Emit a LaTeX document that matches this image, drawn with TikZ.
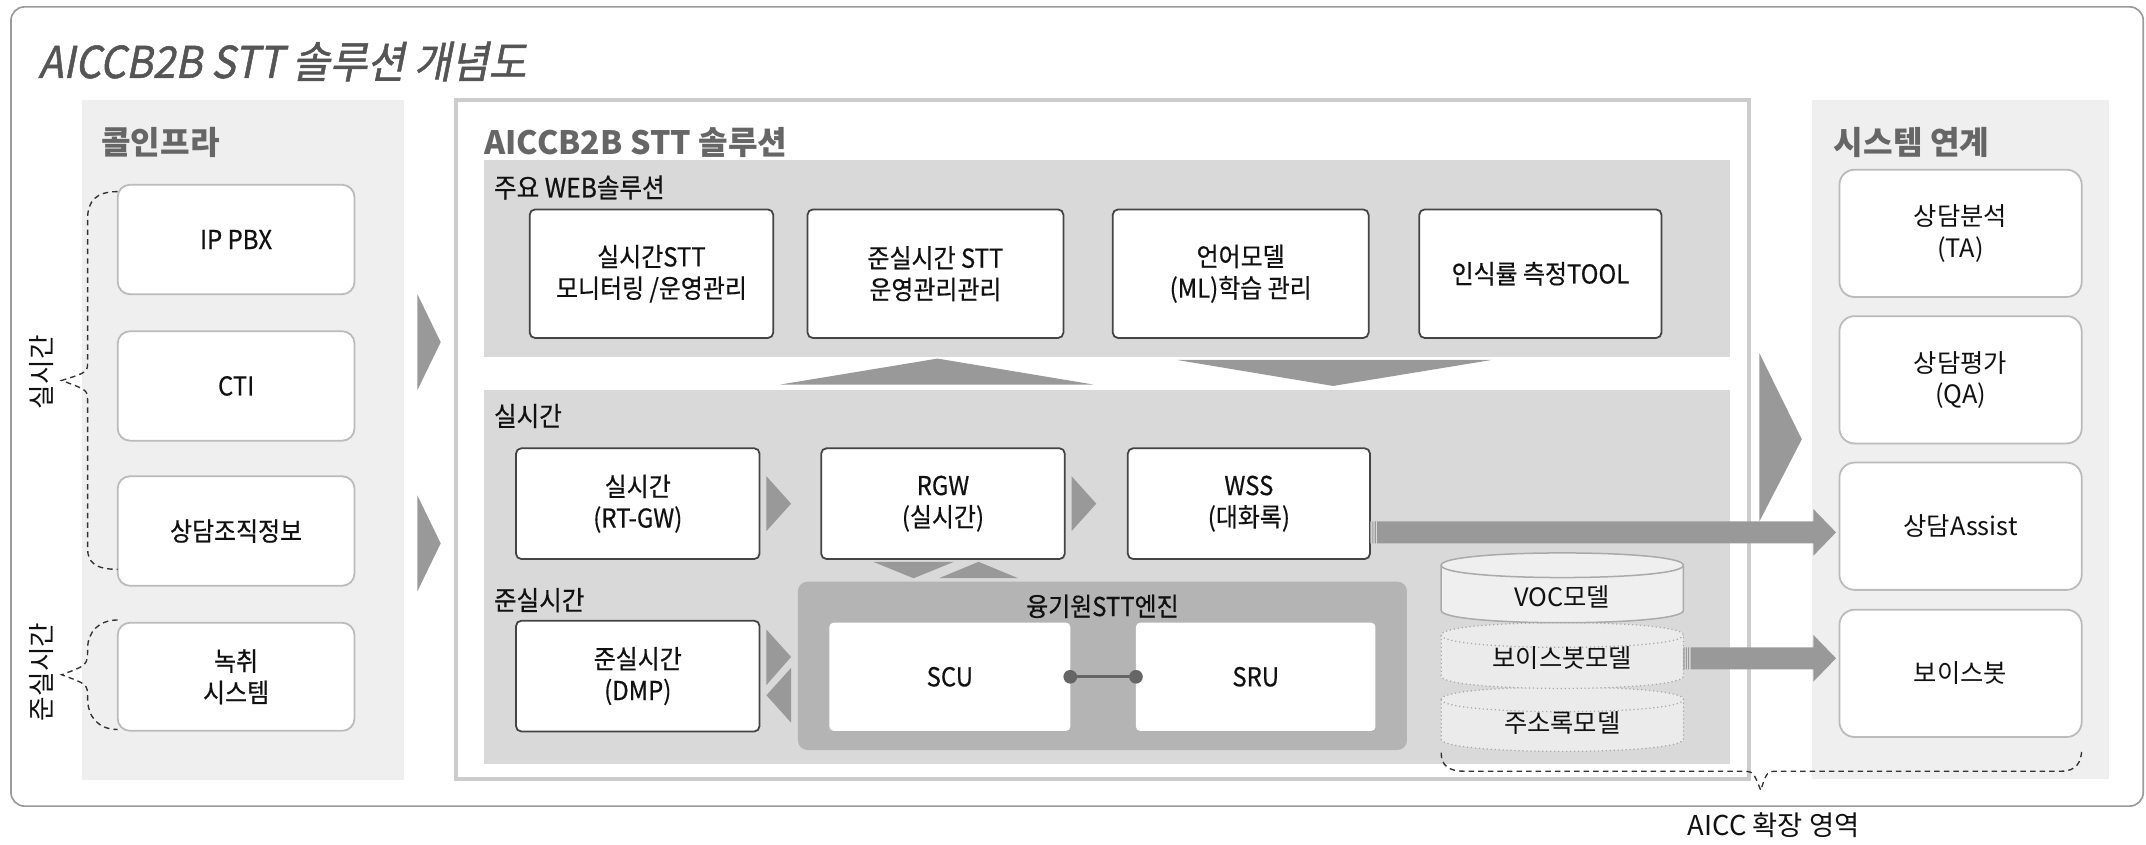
\documentclass[tikz,border=0pt]{standalone}
\usepackage{fontspec}
\setmainfont{Noto Sans CJK KR}
\newfontfamily\titlefont{Noto Sans CJK KR}[FakeSlant=0.2,FakeStretch=0.93,FakeBold=1.2]
\newfontfamily\condfont{Noto Sans CJK KR}[FakeStretch=0.92,FakeBold=0.5]
\usetikzlibrary{calc}
\definecolor{framegray}{HTML}{9A9A9A}
\definecolor{panelgray}{HTML}{EFEFEF}
\definecolor{secgray}{HTML}{D9D9D9}
\definecolor{enggray}{HTML}{B4B4B4}
\definecolor{arrgray}{HTML}{999999}
\definecolor{titlegray}{HTML}{555555}
\definecolor{headgray}{HTML}{666666}
\definecolor{lightborder}{HTML}{BBBBBB}
\definecolor{darkborder}{HTML}{444444}
\definecolor{centerborder}{HTML}{CCCCCC}
\definecolor{textblack}{HTML}{111111}
\definecolor{cylline}{HTML}{AAAAAA}
\definecolor{cylfill}{HTML}{EFEFEF}
\definecolor{segfill}{HTML}{EBEBEB}
\definecolor{connline}{HTML}{666666}
\definecolor{bracegray}{HTML}{333333}

% fat horizontal arrow: #1 start, #2 tip (horizontal at start's y)
\newcommand\fatarrow[2]{%
  \fill[arrgray] let \p1=(#1), \p2=(#2) in
    (\x1,\y1-8) rectangle (\x1+0.8,\y1+8)
    (\x1+1.7,\y1-8) rectangle (\x1+2.5,\y1+8)
    (\x1+3.4,\y1-8) rectangle (\x1+4.2,\y1+8)
    (\x1+5.2,\y1-8) -- (\x2-16.5,\y1-8) -- (\x2-16.5,\y1-17) -- (\x2,\y1)
    -- (\x2-16.5,\y1+17) -- (\x2-16.5,\y1+8) -- (\x1+5.2,\y1+8) -- cycle;}

\begin{document}
\begin{tikzpicture}[x=1pt,y=-1pt,
  every node/.style={inner sep=0pt, outer sep=0pt, text=textblack},
  boxfont/.style={font=\condfont\fontsize{19}{23}\selectfont},
  lbox/.style={draw=lightborder, line width=1.3pt, fill=white, rounded corners=9pt, align=center, boxfont},
  rbox/.style={draw=lightborder, line width=1.3pt, fill=white, rounded corners=11pt, align=center, font=\fontsize{18.5}{23}\selectfont},
  dbox/.style={draw=darkborder, line width=1.3pt, fill=white, rounded corners=4pt, align=center, boxfont},
  wbox/.style={fill=white, rounded corners=3pt, align=center, boxfont},
  sectlabel/.style={anchor=west, font=\condfont\fontsize{19.5}{22}\selectfont},
  paneltitle/.style={anchor=west, text=headgray, font=\bfseries\fontsize{23.5}{27}\selectfont},
  tri/.style={fill=arrgray},
  bracestyle/.style={draw=bracegray, line width=1pt, dash pattern=on 4pt off 3pt},
  sidelabel/.style={rotate=90, font=\fontsize{19.5}{22}\selectfont},
  cyltext/.style={minimum width=177pt, font=\fontsize{18.5}{21}\selectfont},
]
\useasboundingbox (0,0) rectangle (1568,617);

% outer frame and title
\draw[framegray, line width=1.2pt, rounded corners=10pt] (8,5) rectangle (1566,589);
\node[anchor=west, text=titlegray, font=\titlefont\fontsize{32}{36}\selectfont] (title) at (28,45) {AICCB2B STT 솔루션 개념도};

% ---------- left panel ----------
\fill[panelgray] (60,73) rectangle (295,570);
\node[paneltitle] (lefttitle) at (74,104) {콜인프라};
\node[lbox, minimum width=173pt, minimum height=80pt] (ippbx) at (172.5,175) {IP PBX};
\node[lbox, minimum width=173pt, minimum height=80pt] (cti) at (172.5,282) {CTI};
\node[lbox, minimum width=173pt, minimum height=80pt] (org) at (172.5,388) {상담조직정보};
\node[lbox, minimum width=173pt, minimum height=79pt] (rec) at (172.5,494.5) {녹취\\시스템};

\coordinate (rttip) at (45,278);
\coordinate (nrttip) at (45,493);
\draw[bracestyle] ($(ippbx.north west)+(0,5)$) .. controls (70,140) and (64,147) .. (64,160)
  -- (64,264) .. controls (64,272) .. (rttip) .. controls (64,285) .. (64,293)
  -- (64,401) .. controls (64,411) and (70,416) .. ($(org.south west)+(0,-12)$);
\draw[bracestyle] ($(rec.north west)+(0,-2)$) .. controls (72,453) and (64,462) .. (64,474)
  .. controls (64,486) .. (nrttip) .. controls (64,500) .. (64,510)
  .. controls (64,524) and (72,533) .. ($(rec.south west)+(0,-1)$);
\node[sidelabel] (rtlabel) at (30,272) {실시간};
\node[sidelabel] (nrtlabel) at (30,491) {준실시간};

% arrows from left panel
\fill[tri] (305,215) -- (322,250) -- (305,285) -- cycle;
\fill[tri] (305,362) -- (322,397) -- (305,432) -- cycle;

% ---------- center panel ----------
\draw[centerborder, line width=3pt, fill=white] (333,73) rectangle (1278,569);
\node[paneltitle] (centertitle) at (354,104) {AICCB2B STT 솔루션};

\fill[secgray] (354,117) rectangle (1264,261);
\node[sectlabel] (weblabel) at (361,137) {주요 WEB솔루션};
\node[dbox, minimum width=178pt, minimum height=94pt] (w1) at (476,200) {실시간STT\\모니터링 /운영관리};
\node[dbox, minimum width=187pt, minimum height=94pt] (w2) at (683.5,200) {준실시간 STT\\운영관리관리};
\node[dbox, minimum width=187pt, minimum height=94pt] (w3) at (906.5,200) {언어모델\\(ML)학습 관리};
\node[dbox, minimum width=177pt, minimum height=94pt] (w4) at (1125.5,200) {인식률 측정TOOL};

\fill[tri] (570,281) -- (685,262) -- (799,281) -- cycle;
\fill[tri] (860,263) -- (974,282) -- (1090,263) -- cycle;

\fill[secgray] (354,285) rectangle (1264,558);
\node[sectlabel] (rtsec) at (361,304) {실시간};
\node[dbox, minimum width=178pt, minimum height=81pt] (rtgw) at (466,368) {실시간\\(RT-GW)};
\node[dbox, minimum width=178pt, minimum height=81pt] (rgw) at (689,368) {RGW\\(실시간)};
\node[dbox, minimum width=177pt, minimum height=81pt] (wss) at (912.5,368) {WSS\\(대화록)};
\fill[tri] (560,348) -- (578,368) -- (560,388) -- cycle;
\fill[tri] (783,348) -- (801,368) -- (783,388) -- cycle;
\fill[tri] (638,410.5) -- (697,410.5) -- (667.5,422.5) -- cycle;
\fill[tri] (686,422.5) -- (744,422.5) -- (715,410.5) -- cycle;

\node[sectlabel] (nrtsec) at (361,438.5) {준실시간};
\node[dbox, minimum width=178pt, minimum height=81pt] (dmp) at (466,494) {준실시간\\(DMP)};
\fill[tri] (560,460) -- (578,480) -- (560,500.5) -- cycle;
\fill[tri] (578,488) -- (560,508) -- (578,528) -- cycle;

\fill[enggray, rounded corners=7pt] (583,425) rectangle (1028,548);
\node[font=\condfont\fontsize{19}{22}\selectfont] (englabel) at (805.5,443) {융기원STT엔진};
\node[wbox, minimum width=176pt, minimum height=79pt] (scu) at (694,494.5) {SCU};
\node[wbox, minimum width=175pt, minimum height=79pt] (sru) at (917.5,494.5) {SRU};
\draw[connline, line width=2.2pt] (scu.east) -- (sru.west);
\fill[connline] (scu.east) circle[radius=5pt];
\fill[connline] (sru.west) circle[radius=5pt];

% database cylinders
\filldraw[fill=segfill, draw=cylline, line width=0.9pt, dotted]
  (1053,511) -- (1053,540) .. controls (1053,552) and (1230,552) .. (1230,540)
  -- (1230,511) .. controls (1230,499) and (1053,499) .. (1053,511) -- cycle;
\draw[cylline, line width=0.9pt, dotted] (1053,511) .. controls (1053,523) and (1230,523) .. (1230,511);
\filldraw[fill=segfill, draw=cylline, line width=0.9pt, dotted]
  (1053,464) -- (1053,494) .. controls (1053,506) and (1230,506) .. (1230,494)
  -- (1230,464) .. controls (1230,452) and (1053,452) .. (1053,464) -- cycle;
\draw[cylline, line width=0.9pt, dotted] (1053,464) .. controls (1053,476) and (1230,476) .. (1230,464);
\filldraw[fill=cylfill, draw=cylline, line width=1.1pt]
  (1053,413) -- (1053,446) .. controls (1053,458) and (1230,458) .. (1230,446)
  -- (1230,413) .. controls (1230,401) and (1053,401) .. (1053,413) -- cycle;
\draw[cylline, line width=1.1pt] (1053,413) .. controls (1053,425) and (1230,425) .. (1230,413);
\node[cyltext] (voc) at (1141.5,436) {VOC모델};
\node[cyltext] (vbm) at (1141.5,481) {보이스봇모델};
\node[cyltext] (abm) at (1141.5,528) {주소록모델};

% ---------- right panel ----------
\fill[panelgray] (1324,73) rectangle (1541,569);
\node[paneltitle] (righttitle) at (1340,104) {시스템 연계};
\node[rbox, minimum width=177pt, minimum height=93pt] (ta) at (1432.5,170.5) {상담분석\\(TA)};
\node[rbox, minimum width=177pt, minimum height=93pt] (qa) at (1432.5,277.5) {상담평가\\(QA)};
\node[rbox, minimum width=177pt, minimum height=93pt] (assist) at (1432.5,384.5) {상담Assist};
\node[rbox, minimum width=177pt, minimum height=93pt] (vbs) at (1432.5,492) {보이스봇};

% big triangle center -> right
\fill[tri] (1285.5,258) -- (1316.5,321) -- (1285.5,381) -- cycle;

% fat arrows
\coordinate (a1s) at (wss.east |- 0,389);
\coordinate (a1t) at (1341.5,389);
\fatarrow{a1s}{a1t}
\coordinate (a2t) at (1341.5,480);
\fatarrow{vbm.east}{a2t}

% AICC extension brace
\coordinate (aicctip) at (1286.5,577.5);
\draw[bracestyle] (1053,550) .. controls (1053,559) and (1058,563.5) .. (1070,563.5)
  -- (1272,563.5) .. controls (1281,563.5) .. (aicctip) .. controls (1291,563.5) .. (1300,563.5)
  -- (1506,563.5) .. controls (1517,563.5) and (1521,557) .. (1521,547);
\node[font=\fontsize{20}{22}\selectfont] (aicc) at (1296,603) {AICC 확장 영역};
\end{tikzpicture}
\end{document}
